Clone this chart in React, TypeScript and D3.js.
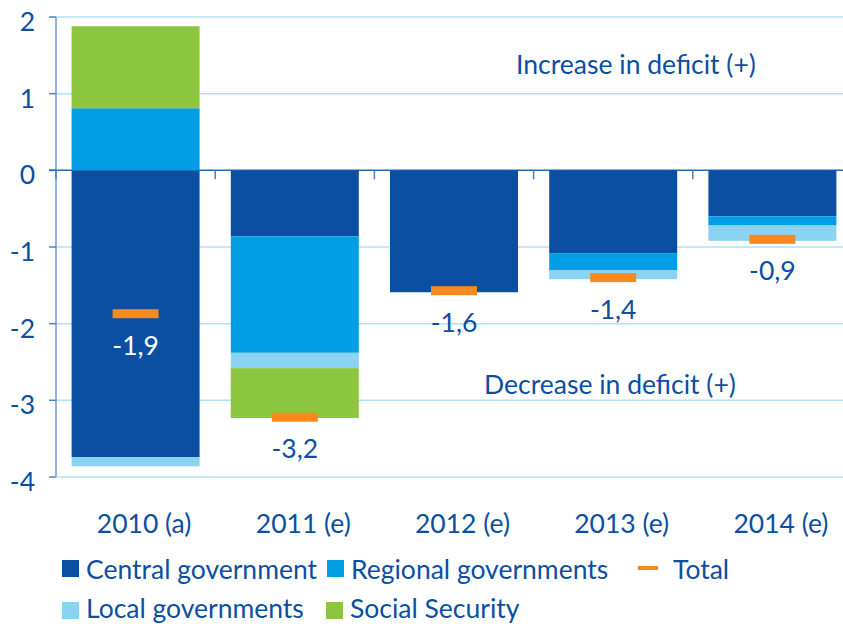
import React from "react";
import * as d3 from "d3";

const years = ["2010 (a)", "2011 (e)", "2012 (e)", "2013 (e)", "2014 (e)"];
const central = [-3.74, -0.86, -1.59, -1.08, -0.6];
const regional = [0.81, -1.52, 0, -0.22, -0.12];
const local = [-0.12, -0.2, 0, -0.12, -0.2];
const social = [1.07, -0.65, 0, 0, 0];
const totals = [-1.87, -3.22, -1.57, -1.4, -0.9];
const yTicks = [2, 1, 0, -1, -2, -3, -4];

const seriesNames = ["Central government", "Regional governments", "Local governments", "Social Security"];
const seriesColors = ["#0a4fa2", "#009fe3", "#8bd3f3", "#8cc63f"];
const totalColor = "#f7891f";
const textColor = "#0b4fa3";

const W = 843;
const H = 624;
const FONT = "Lato, 'Open Sans', sans-serif";

const App = () => {
  const x = d3.scaleBand<string>().domain(years).range([56, 852]).paddingInner(0.196).paddingOuter(0.098);
  const y = d3.scaleLinear().domain([-4, 2]).range([477, 17]);

  const series = [central, regional, local, social];

  // stack positives up, negatives down
  const segments: {i: number, s: number, y0: number, y1: number}[] = [];
  years.forEach((_, i) => {
    let pos = 0, neg = 0;
    series.forEach((arr, s) => {
      const v = arr[i];
      if (v === 0) return;
      if (v > 0) {
        segments.push({i, s, y0: pos, y1: pos + v});
        pos += v;
      } else {
        segments.push({i, s, y0: neg, y1: neg + v});
        neg += v;
      }
    });
  });

  const barMin = years.map((_, i) => d3.sum(series, arr => Math.min(arr[i], 0)));
  const fmt = (v: number) => d3.format(".1f")(v).replace(".", ",").replace("−", "-");
  const gap = x.step() * x.paddingInner();

  const legendRows = [
    [{kind: "box", color: seriesColors[0], label: seriesNames[0], x: 62},
     {kind: "box", color: seriesColors[1], label: seriesNames[1], x: 327},
     {kind: "line", color: totalColor, label: "Total", x: 638}],
    [{kind: "box", color: seriesColors[2], label: seriesNames[2], x: 62},
     {kind: "box", color: seriesColors[3], label: seriesNames[3], x: 326}],
  ];

  return (
    <svg width={W} height={H} style={{position: "absolute", left: 0, top: 0}} fontFamily={FONT}>
      {/* grid */}
      {yTicks.filter(t => t !== 0).map(t => (
        <line key={t} x1={56} x2={W} y1={y(t)} y2={y(t)} stroke="#b5dff5" strokeWidth={1.5}/>
      ))}
      {/* y axis */}
      <line x1={56} x2={56} y1={y(2)} y2={y(-4)} stroke="#6b9bd2" strokeWidth={1.5}/>
      {yTicks.map(t => (
        <g key={t}>
          <line x1={49} x2={56} y1={y(t)} y2={y(t)} stroke="#4a82c4" strokeWidth={1.5}/>
          <text x={35} y={y(t) + 14} textAnchor="end" fill={textColor} fontSize={26.5}>{t < 0 ? "-" + Math.abs(t) : t}</text>
        </g>
      ))}
      {/* zero line */}
      <line x1={49} x2={W} y1={y(0)} y2={y(0)} stroke="#2a66b3" strokeWidth={1.5}/>
      {years.map(yr => (
        <line key={yr} x1={(x(yr) as number) - gap / 2} x2={(x(yr) as number) - gap / 2}
          y1={y(0)} y2={y(0) + 9} stroke="#4a82c4" strokeWidth={1.5}/>
      ))}
      {/* bars */}
      {segments.map((d, k) => (
        <rect key={k} x={x(years[d.i])} width={x.bandwidth()}
          y={y(Math.max(d.y0, d.y1))} height={Math.abs(y(d.y0) - y(d.y1))}
          fill={seriesColors[d.s]}/>
      ))}
      {/* totals */}
      {totals.map((v, i) => {
        const cx = (x(years[i]) as number) + x.bandwidth() / 2;
        const ly = y(v) + 41;
        const inside = v > barMin[i] + 0.6;
        return (
          <g key={i}>
            <rect x={cx - 23} y={y(v) - 4.5} width={46} height={9} fill={totalColor}/>
            <text x={cx} y={ly} textAnchor="middle" fontSize={26.5} fill={inside ? "#ffffff" : textColor}>{fmt(v)}</text>
          </g>
        );
      })}
      {/* annotations */}
      <text x={636} y={74} textAnchor="middle" fontSize={26.5} fill={textColor}>Increase in deficit (+)</text>
      <text x={610} y={394} textAnchor="middle" fontSize={26.5} fill={textColor}>Decrease in deficit (+)</text>
      {/* x labels */}
      {years.map(yr => (
        <text key={yr} x={(x(yr) as number) + x.bandwidth() / 2 + 8.5} y={533} textAnchor="middle" fontSize={26.5} fill={textColor}>{yr}</text>
      ))}
      {/* legend */}
      {legendRows.map((row, r) => row.map(item => (
        <g key={item.label}>
          {item.kind === "box"
            ? <rect x={item.x} y={560 + r * 42} width={17} height={17} fill={item.color}/>
            : <rect x={item.x} y={566} width={20} height={4} fill={item.color}/>}
          <text x={item.x + (item.kind === "box" ? 24 : 35)} y={579 + r * 39} fontSize={26.5} fill={textColor}>{item.label}</text>
        </g>
      )))}
    </svg>
  );
};

export default App;
